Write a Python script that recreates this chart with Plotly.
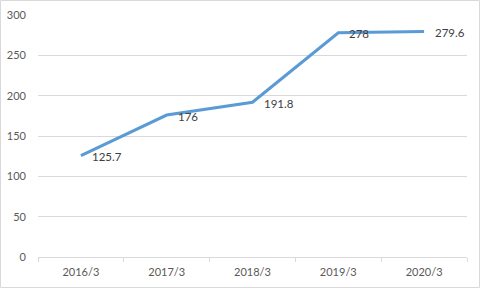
import plotly.graph_objects as go

categories = ["2016/3", "2017/3", "2018/3", "2019/3", "2020/3"]
values = [125.7, 176, 191.8, 278, 279.6]
labels = ["125.7", "176", "191.8", "278", "279.6"]
y_ticks = [0, 50, 100, 150, 200, 250, 300]

W, H = 481, 289
ml, mr, mt, mb = 38, 14, 15, 32
pw, ph = W - ml - mr, H - mt - mb
FONT = "Lato, Open Sans, sans-serif"

fig = go.Figure()
fig.add_trace(go.Scatter(
    x=categories, y=values, mode="lines",
    line=dict(color="#5B9BD5", width=3), hoverinfo="skip", showlegend=False,
))
for c, v, t in zip(categories, values, labels):
    fig.add_annotation(x=c, y=v, text=t, showarrow=False, xanchor="left",
                       yanchor="middle", xshift=9, yshift=-1,
                       font=dict(family=FONT, size=11.5, color="#404040"))

fig.add_shape(type="rect", xref="paper", yref="paper",
              x0=(0.5 - ml) / pw, x1=(W - 1.5 - ml) / pw,
              y0=(H - mb - (H - 1.5)) / ph, y1=(H - mb - 0.5) / ph,
              line=dict(color="#d9d9d9", width=1), layer="below")

fig.update_layout(
    width=W, height=H,
    margin=dict(l=ml, r=mr, t=mt, b=mb, autoexpand=False),
    paper_bgcolor="white", plot_bgcolor="white",
    font=dict(family=FONT, size=11, color="#595959"),
    xaxis=dict(type="category", range=[-0.5, 4.5], tickson="boundaries",
               ticks="outside", ticklen=4, tickcolor="#d9d9d9",
               showline=True, linecolor="#d9d9d9", linewidth=1,
               showgrid=False, zeroline=False, fixedrange=True,
               automargin=False, ticklabelstandoff=5),
    yaxis=dict(range=[0, 300], tickvals=y_ticks, showgrid=True,
               gridcolor="#d9d9d9", gridwidth=1, zeroline=False,
               showline=False, ticks="", ticklabelstandoff=11,
               fixedrange=True, automargin=False),
)
fig.write_html("out.html")
